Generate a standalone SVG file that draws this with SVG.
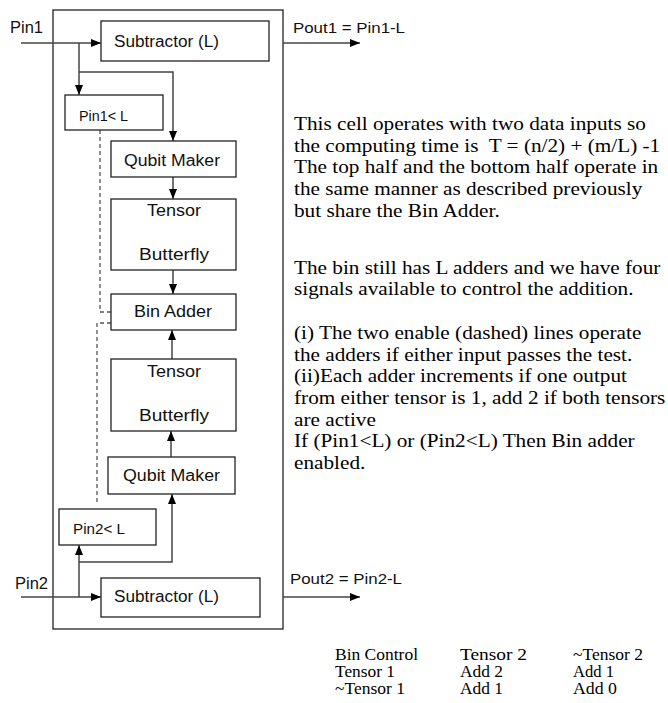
<svg xmlns="http://www.w3.org/2000/svg" width="668" height="703" viewBox="0 0 668 703">
<defs>
<marker id="arr" markerWidth="10" markerHeight="8" refX="10" refY="4" orient="auto" markerUnits="userSpaceOnUse">
<path d="M0,0 L10,4 L0,8 Z" fill="#000"/>
</marker>
<style>
.box{fill:#fff;stroke:#222;stroke-width:1.3}
.frame{fill:none;stroke:#222;stroke-width:1.3}
.ln{fill:none;stroke:#444;stroke-width:1.5}
.dash{fill:none;stroke:#555;stroke-width:1.3;stroke-dasharray:4,3}
.lbl{font-family:"Liberation Sans",Arial,sans-serif;font-size:16px;fill:#111}
.nt{font-family:"Liberation Sans",Arial,sans-serif;font-size:16px;fill:#111;text-anchor:middle}
.sm{font-family:"Liberation Sans",Arial,sans-serif;font-size:14px;fill:#111}
.body{font-family:"Liberation Serif","Times New Roman",serif;font-size:18px;fill:#000}
.tb{font-family:"Liberation Serif","Times New Roman",serif;font-size:16px;fill:#000}
</style>
</defs>
<rect class="frame" x="53" y="10" width="230" height="619"/>
<g id="connectors">
<line class="ln" x1="21" y1="43" x2="101" y2="43" marker-end="url(#arr)"/>
<line class="ln" x1="79" y1="43" x2="79" y2="95" marker-end="url(#arr)"/>
<polyline class="ln" points="79,72 173,72 173,141" marker-end="url(#arr)"/>
<line class="ln" x1="173" y1="177" x2="173" y2="199" marker-end="url(#arr)"/>
<line class="ln" x1="173" y1="270" x2="173" y2="294" marker-end="url(#arr)"/>
<line class="ln" x1="172" y1="359" x2="172" y2="330" marker-end="url(#arr)"/>
<line class="ln" x1="171" y1="457" x2="171" y2="431" marker-end="url(#arr)"/>
<polyline class="ln" points="79,562 172,562 172,494" marker-end="url(#arr)"/>
<line class="ln" x1="79" y1="597" x2="79" y2="545" marker-end="url(#arr)"/>
<line class="ln" x1="21" y1="597" x2="101" y2="597" marker-end="url(#arr)"/>
<line class="ln" x1="283" y1="43" x2="360" y2="43" marker-end="url(#arr)"/>
<line class="ln" x1="283" y1="597" x2="360" y2="597" marker-end="url(#arr)"/>
<polyline class="dash" points="100,130 100,312 111,312"/>
<polyline class="dash" points="111,323 97,323 97,505"/>
</g>
<g id="subtractor1"><rect class="box" x="101" y="21" width="168" height="40"/><text class="lbl" x="114" y="47" font-size="17" textLength="105" lengthAdjust="spacingAndGlyphs">Subtractor (L)</text></g>
<g id="pin1lt"><rect class="box" x="65" y="95" width="98" height="35"/><text class="sm" x="79" y="121" textLength="49" lengthAdjust="spacingAndGlyphs">Pin1&lt; L</text></g>
<g id="qubit1"><rect class="box" x="111" y="141" width="125" height="36"/><text class="nt" x="172" y="166" textLength="96" lengthAdjust="spacingAndGlyphs">Qubit Maker</text></g>
<g id="tensor1"><rect class="box" x="111" y="199" width="125" height="71"/><text class="nt" x="174" y="216" textLength="54" lengthAdjust="spacingAndGlyphs">Tensor</text><text class="nt" x="174" y="260" textLength="70" lengthAdjust="spacingAndGlyphs">Butterfly</text></g>
<g id="binadder"><rect class="box" x="111" y="294" width="125" height="36"/><text class="nt" x="173" y="317" textLength="78" lengthAdjust="spacingAndGlyphs">Bin Adder</text></g>
<g id="tensor2"><rect class="box" x="111" y="359" width="125" height="72"/><text class="nt" x="174" y="377" textLength="54" lengthAdjust="spacingAndGlyphs">Tensor</text><text class="nt" x="174" y="421" textLength="70" lengthAdjust="spacingAndGlyphs">Butterfly</text></g>
<g id="qubit2"><rect class="box" x="108" y="457" width="127" height="37"/><text class="nt" x="171.5" y="481" textLength="97" lengthAdjust="spacingAndGlyphs">Qubit Maker</text></g>
<g id="pin2lt"><rect class="box" x="59" y="509" width="97" height="36"/><text class="sm" x="73" y="534" textLength="52" lengthAdjust="spacingAndGlyphs">Pin2&lt; L</text></g>
<g id="subtractor2"><rect class="box" x="101" y="578" width="159" height="39"/><text class="lbl" x="114" y="602" font-size="17" textLength="105" lengthAdjust="spacingAndGlyphs">Subtractor (L)</text></g>
<g id="labels">
<text class="lbl" x="10" y="33" textLength="33" lengthAdjust="spacingAndGlyphs">Pin1</text>
<text class="lbl" x="15" y="589" textLength="33" lengthAdjust="spacingAndGlyphs">Pin2</text>
<text class="sm" x="293" y="33" font-size="15" textLength="112" lengthAdjust="spacingAndGlyphs">Pout1 = Pin1-L</text>
<text class="sm" x="290" y="584" font-size="15" textLength="112" lengthAdjust="spacingAndGlyphs">Pout2 = Pin2-L</text>
</g>
<g id="description" transform="translate(294 0) scale(1.18 1)">
<text class="body" x="0" y="130">This cell operates with two data inputs so</text>
<text class="body" x="0" y="152" xml:space="preserve">the computing time is  T = (n/2) + (m/L) -1</text>
<text class="body" x="0" y="173">The top half and the bottom half operate in</text>
<text class="body" x="0" y="195">the same manner as described previously</text>
<text class="body" x="0" y="217">but share the Bin Adder.</text>
<text class="body" x="0" y="274">The bin still has L adders and we have four</text>
<text class="body" x="0" y="295">signals available to control the addition.</text>
<text class="body" x="0" y="339">(i) The two enable (dashed) lines operate</text>
<text class="body" x="0" y="361">the adders if either input passes the test.</text>
<text class="body" x="0" y="382">(ii)Each adder increments if one output</text>
<text class="body" x="0" y="404">from either tensor is 1, add 2 if both tensors</text>
<text class="body" x="0" y="426">are active</text>
<text class="body" x="0" y="447">If (Pin1&lt;L) or (Pin2&lt;L) Then Bin adder</text>
<text class="body" x="0" y="469">enabled.</text>
</g>
<g id="table">
<text class="tb" x="335" y="660" textLength="83" lengthAdjust="spacingAndGlyphs">Bin Control</text>
<text class="tb" x="460" y="660" textLength="67" lengthAdjust="spacingAndGlyphs">Tensor  2</text>
<text class="tb" x="573" y="660" textLength="70" lengthAdjust="spacingAndGlyphs">~Tensor 2</text>
<text class="tb" x="335" y="677" textLength="60" lengthAdjust="spacingAndGlyphs">Tensor 1</text>
<text class="tb" x="460" y="677" textLength="43" lengthAdjust="spacingAndGlyphs">Add 2</text>
<text class="tb" x="573" y="677" textLength="41" lengthAdjust="spacingAndGlyphs">Add 1</text>
<text class="tb" x="335" y="694" textLength="70" lengthAdjust="spacingAndGlyphs">~Tensor 1</text>
<text class="tb" x="460" y="694" textLength="43" lengthAdjust="spacingAndGlyphs">Add 1</text>
<text class="tb" x="573" y="694" textLength="44" lengthAdjust="spacingAndGlyphs">Add 0</text>
</g>
</svg>
